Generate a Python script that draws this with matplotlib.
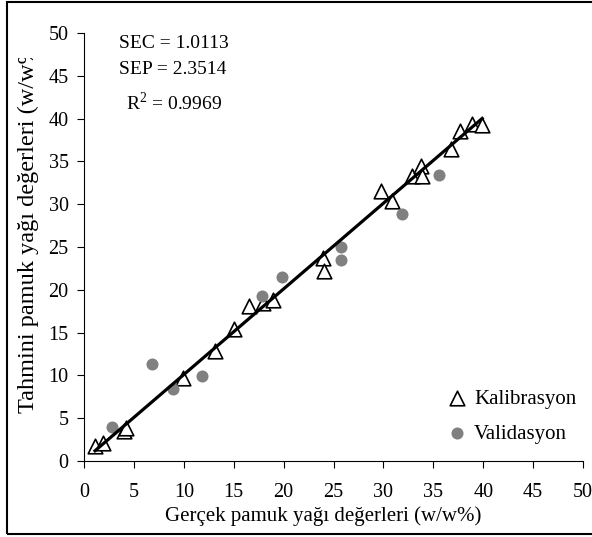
import numpy as np
import matplotlib
matplotlib.use("Agg")
import matplotlib.pyplot as plt
from matplotlib.patches import Rectangle
from matplotlib.transforms import Bbox, TransformedBbox

# Calibration set (measured vs predicted)
cal_x = [1.1, 1.9, 4.0, 4.2, 9.9, 13.1, 15.0, 16.5, 17.9, 18.9, 23.9, 24.0,
         29.8, 30.9, 32.9, 33.8, 33.9, 36.8, 37.7, 38.9, 39.9]
cal_y = [1.8, 2.1, 3.5, 3.9, 9.7, 12.9, 15.4, 18.1, 18.4, 18.8, 23.7, 22.2,
         31.5, 30.4, 33.3, 34.5, 33.3, 36.4, 38.6, 39.4, 39.3]

# Validation set
val_x = [2.8, 6.8, 8.9, 11.8, 17.8, 19.8, 25.8, 25.8, 31.9, 35.6]
val_y = [4.0, 11.3, 8.4, 9.9, 19.3, 21.5, 25.0, 23.5, 28.8, 33.4]

stats_lines = ["SEC = 1.0113", "SEP = 2.3514", "R$^{2}$ = 0.9969"]
ticks = [0, 5, 10, 15, 20, 25, 30, 35, 40, 45, 50]

plt.rcParams['font.family'] = ['Liberation Serif', 'DejaVu Serif']
plt.rcParams['mathtext.fontset'] = 'custom'
plt.rcParams['mathtext.rm'] = 'Liberation Serif'

W, H = 592, 537
fig = plt.figure(figsize=(W / 100, H / 100), dpi=100)
ax = fig.add_axes([84 / W, 1 - 461 / H, 499 / W, 428 / H])

ax.scatter(cal_x, cal_y, marker='^', s=110, facecolor='white', edgecolor='black',
           linewidth=1.2, zorder=3, label='Kalibrasyon')
ax.scatter(val_x, val_y, marker='o', s=75, color='#808080', linewidth=0,
           zorder=4, label='Validasyon')

# linear fit on the calibration set
b, a = np.polyfit(cal_x, cal_y, 1)
fx = np.array([min(cal_x), max(cal_x)])
ax.plot(fx, a + b * fx, color='black', linewidth=2.3, zorder=5)

ax.set_xlim(0, 50)
ax.set_ylim(0, 50)
ax.set_xticks(ticks)
ax.set_yticks(ticks)
ax.tick_params(direction='out', length=5, width=0.8, labelsize=14.5)
ax.tick_params(axis='y', pad=6)
ax.tick_params(axis='x', pad=11)
for s in ['top', 'right']:
    ax.spines[s].set_visible(False)
for s in ['left', 'bottom']:
    ax.spines[s].set_linewidth(0.8)

fig.text(119 / W, 1 - 43 / H, stats_lines[0], fontsize=14, va='center')
fig.text(119 / W, 1 - 69 / H, stats_lines[1], fontsize=14, va='center')
fig.text(126 / W, 1 - 103 / H, stats_lines[2], fontsize=14, va='center')

fig.text(0.5 * (160 + 487) / W, 1 - 516 / H, "Gerçek pamuk yağı değerleri (w/w%)",
         fontsize=15, ha='center', va='center')
# y title is cut off at the top in the original
yl = fig.text(28 / W, 1 - 413 / H, "Tahmini pamuk yağı değerleri (w/w%)",
              fontsize=17.5, rotation=90, ha='center', va='bottom')
yl.set_clip_on(True)
yl.set_clip_box(TransformedBbox(Bbox([[0, 0], [1, 1 - 58 / H]]), fig.transFigure))

leg = ax.legend(loc='upper left', bbox_to_anchor=(447 / W, 1 - 389 / H),
                bbox_transform=fig.transFigure, frameon=False, fontsize=15,
                handlelength=1.0, handletextpad=0.3, labelspacing=0.75,
                borderpad=0, borderaxespad=0)

# outer frame
fig.patches.append(Rectangle((7 / W, 1 - 534 / H), 1.2, (534 - 2) / H,
                             transform=fig.transFigure, fill=False,
                             edgecolor='black', linewidth=1.5))

fig.savefig("out.png", dpi=100)
